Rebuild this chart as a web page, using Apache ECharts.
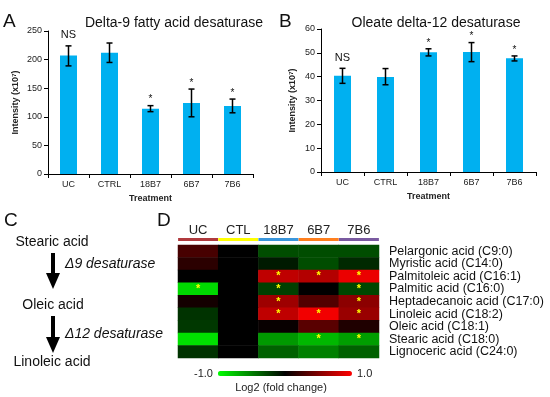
<!DOCTYPE html>
<html>
<head>
<meta charset="utf-8">
<script src="https://cdn.jsdelivr.net/npm/echarts@6/dist/echarts.min.js"></script>
<style>
html,body{margin:0;padding:0;background:#fff;}
#chart{width:550px;height:397px;}
</style>
</head>
<body>
<div id="chart"></div>
<script>
// ---- Data ----
const treatA = ['UC', 'CTRL', '18B7', '6B7', '7B6'];
const meanA = [207, 212, 114, 124, 119];
const lowA = [189, 195, 109, 100, 107];
const highA = [224, 229, 119.5, 148.5, 131];
const sigA = ['NS', '', '*', '*', '*'];

const treatB = ['UC', 'CTRL', '18B7', '6B7', '7B6'];
const meanB = [40.4, 39.9, 50.2, 50.3, 47.7];
const lowB = [37.2, 36.6, 48.7, 46.3, 46.6];
const highB = [43.5, 43.4, 51.7, 54.3, 48.7];
const sigB = ['NS', '', '*', '*', '*'];

const heatCols = ['UC', 'CTL', '18B7', '6B7', '7B6'];
const heatRows = ['Pelargonic acid (C9:0)', 'Myristic acid (C14:0)', 'Palmitoleic acid (C16:1)',
  'Palmitic acid (C16:0)', 'Heptadecanoic acid (C17:0)', 'Linoleic acid (C18:2)',
  'Oleic acid (C18:1)', 'Stearic acid (C18:0)', 'Lignoceric acid (C24:0)'];
// log2 fold change, rows x [UC, CTL, 18B7, 6B7, 7B6]
const foldChange = [
  [0.28, 0, -0.30, -0.30, -0.30],
  [0.17, 0, -0.10, -0.30, -0.16],
  [0.00, 0, 0.75, 0.70, 0.92],
  [-0.85, 0, -0.25, 0.00, -0.28],
  [0.08, 0, 0.62, 0.32, 0.55],
  [-0.20, 0, 0.75, 0.95, 0.60],
  [-0.22, 0, 0.03, 0.35, 0.12],
  [-0.88, 0, -0.60, -0.72, -0.62],
  [-0.20, 0, -0.38, -0.50, -0.38]
];
const heatSig = [
  [0, 0, 0, 0, 0],
  [0, 0, 0, 0, 0],
  [0, 0, 1, 1, 1],
  [1, 0, 1, 0, 1],
  [0, 0, 1, 0, 1],
  [0, 0, 1, 1, 1],
  [0, 0, 0, 0, 0],
  [0, 0, 0, 1, 1],
  [0, 0, 0, 0, 0]
];
const colColors = ['#b03a3e', '#ffff00', '#3a96dc', '#ff7f1e', '#7a5aa0'];

// ---- Build ----
const FONT = '"Liberation Sans", Arial, sans-serif';
const chart = echarts.init(document.getElementById('chart'));

function errRender(sig) {
  return function (params, api) {
    const i = api.value(0);
    const lo = api.coord([i, api.value(1)]);
    const hi = api.coord([i, api.value(2)]);
    const c = 3;
    const s = {stroke: '#000', lineWidth: 1.5};
    const txt = sig[i];
    return {
      type: 'group',
      children: [
        {type: 'line', shape: {x1: lo[0], y1: lo[1], x2: hi[0], y2: hi[1]}, style: s},
        {type: 'line', shape: {x1: lo[0] - c, y1: lo[1], x2: lo[0] + c, y2: lo[1]}, style: s},
        {type: 'line', shape: {x1: hi[0] - c, y1: hi[1], x2: hi[0] + c, y2: hi[1]}, style: s},
        {type: 'text', style: {text: txt, x: hi[0], y: hi[1] - (txt === 'NS' ? 5 : 1),
          align: 'center', verticalAlign: 'bottom',
          fontSize: txt === 'NS' ? 11 : 10, fontFamily: FONT, fill: '#111'}}
      ]
    };
  };
}

const catAxisCommon = {
  type: 'category',
  axisLine: {lineStyle: {color: '#000', width: 1}},
  axisTick: {show: true, alignWithLabel: false, length: 4, lineStyle: {color: '#000'}},
  axisLabel: {fontSize: 9, color: '#222', fontFamily: FONT, margin: 6},
  nameLocation: 'middle',
  nameTextStyle: {fontSize: 9, fontWeight: 'bold', color: '#222', fontFamily: FONT}
};
const valAxisCommon = {
  type: 'value',
  min: 0,
  axisLine: {show: true, lineStyle: {color: '#000', width: 1}},
  axisTick: {show: true, length: 4, lineStyle: {color: '#000'}},
  splitLine: {show: false},
  axisLabel: {fontSize: 9, color: '#222', fontFamily: FONT, margin: 6},
  nameLocation: 'middle',
  nameTextStyle: {fontSize: 9, fontWeight: 'bold', color: '#222', fontFamily: FONT}
};

const heatData = [];
foldChange.forEach((row, r) => row.forEach((v, c) => heatData.push([c, r, v])));

const option = {
  animation: false,
  backgroundColor: '#fff',
  textStyle: {fontFamily: FONT},
  title: [
    {text: 'Delta-9 fatty acid desaturase', left: 169, top: 11, textAlign: 'center',
      textStyle: {fontSize: 14, fontWeight: 'normal', color: '#111', fontFamily: FONT}},
    {text: 'Oleate delta-12 desaturase', left: 431, top: 11, textAlign: 'center',
      textStyle: {fontSize: 14, fontWeight: 'normal', color: '#111', fontFamily: FONT}}
  ],
  grid: [
    {left: 48, top: 31, width: 205, height: 143},
    {left: 321, top: 29, width: 215, height: 143},
    {left: 178, top: 245, width: 201, height: 113}
  ],
  xAxis: [
    Object.assign({}, catAxisCommon, {gridIndex: 0, data: treatA, name: 'Treatment', nameGap: 20}),
    Object.assign({}, catAxisCommon, {gridIndex: 1, data: treatB, name: 'Treatment', nameGap: 20}),
    {type: 'category', gridIndex: 2, data: heatCols, position: 'top',
      axisLine: {show: false}, axisTick: {show: false}, splitLine: {show: false},
      axisLabel: {
        margin: 4, interval: 0,
        formatter: function (v, i) { return '{t|' + v + '}\n{b' + i + '|}'; },
        rich: Object.assign({t: {fontSize: 13, color: '#222', fontFamily: FONT, lineHeight: 15, height: 15}},
          Object.fromEntries(colColors.map((c, i) => ['b' + i, {width: 40, height: 3, lineHeight: 3, backgroundColor: c}])))
      }}
  ],
  yAxis: [
    Object.assign({}, valAxisCommon, {gridIndex: 0, max: 250, interval: 50, name: 'Intensity (x10\u2077)', nameGap: 28}),
    Object.assign({}, valAxisCommon, {gridIndex: 1, max: 60, interval: 10, name: 'Intensity (x10\u2077)', nameGap: 24}),
    {type: 'category', gridIndex: 2, data: heatRows, inverse: true, position: 'right',
      axisLine: {show: false}, axisTick: {show: false}, splitLine: {show: false},
      axisLabel: {fontSize: 12.5, color: '#111', fontFamily: FONT, margin: 10, align: 'left', interval: 0}}
  ],
  visualMap: {
    type: 'continuous', seriesIndex: 4, min: -1, max: 1, orient: 'horizontal',
    left: 179, top: 353, itemWidth: 5, itemHeight: 134, calculable: false, hoverLink: false,
    text: ['1.0', '-1.0'], textGap: 5,
    textStyle: {fontSize: 11, color: '#222', fontFamily: FONT},
    inRange: {color: ['#00ff00', '#000000', '#ff0000']}
  },
  series: [
    {type: 'bar', xAxisIndex: 0, yAxisIndex: 0, data: meanA, barWidth: 17,
      itemStyle: {color: '#00b0f0'}, silent: true},
    {type: 'custom', xAxisIndex: 0, yAxisIndex: 0, renderItem: errRender(sigA),
      data: treatA.map((t, i) => [i, lowA[i], highA[i]]), encode: {x: 0, y: [1, 2]}, silent: true, z: 5},
    {type: 'bar', xAxisIndex: 1, yAxisIndex: 1, data: meanB, barWidth: 17,
      itemStyle: {color: '#00b0f0'}, silent: true},
    {type: 'custom', xAxisIndex: 1, yAxisIndex: 1, renderItem: errRender(sigB),
      data: treatB.map((t, i) => [i, lowB[i], highB[i]]), encode: {x: 0, y: [1, 2]}, silent: true, z: 5},
    {type: 'heatmap', xAxisIndex: 2, yAxisIndex: 2, data: heatData, silent: true,
      itemStyle: {borderWidth: 0},
      label: {show: true, color: '#ffff00', fontSize: 11, fontWeight: 'bold', fontFamily: FONT,
        formatter: function (p) { return heatSig[p.value[1]][p.value[0]] ? '*' : ''; }}}
  ],
  graphic: [
    {type: 'text', left: 3, top: 12, style: {text: 'A', fontSize: 19, fill: '#111', fontFamily: FONT}},
    {type: 'text', left: 279, top: 12, style: {text: 'B', fontSize: 19, fill: '#111', fontFamily: FONT}},
    {type: 'text', left: 4, top: 211, style: {text: 'C', fontSize: 19, fill: '#111', fontFamily: FONT}},
    {type: 'text', left: 157, top: 211, style: {text: 'D', fontSize: 19, fill: '#111', fontFamily: FONT}},
    {type: 'text', x: 52, y: 242, style: {text: 'Stearic acid', fontSize: 14, fill: '#111', fontFamily: FONT, align: 'center', verticalAlign: 'middle'}},
    {type: 'text', x: 53, y: 305, style: {text: 'Oleic acid', fontSize: 14, fill: '#111', fontFamily: FONT, align: 'center', verticalAlign: 'middle'}},
    {type: 'text', x: 52, y: 362, style: {text: 'Linoleic acid', fontSize: 14, fill: '#111', fontFamily: FONT, align: 'center', verticalAlign: 'middle'}},
    {type: 'text', x: 65, y: 264, style: {text: '\u03949 desaturase', fontSize: 14, fontStyle: 'italic', fill: '#111', fontFamily: FONT, verticalAlign: 'middle'}},
    {type: 'text', x: 65, y: 334, style: {text: '\u039412 desaturase', fontSize: 14, fontStyle: 'italic', fill: '#111', fontFamily: FONT, verticalAlign: 'middle'}},
    {type: 'rect', shape: {x: 51, y: 253, width: 4, height: 21}, style: {fill: '#000'}},
    {type: 'polygon', shape: {points: [[46, 273], [60, 273], [53, 289]]}, style: {fill: '#000'}},
    {type: 'rect', shape: {x: 51, y: 316, width: 4, height: 22}, style: {fill: '#000'}},
    {type: 'polygon', shape: {points: [[46, 337], [60, 337], [53, 353]]}, style: {fill: '#000'}},
    {type: 'text', x: 281, y: 388, style: {text: 'Log2 (fold change)', fontSize: 11, fill: '#222', fontFamily: FONT, align: 'center', verticalAlign: 'middle'}}
  ]
};
chart.setOption(option);
</script>
</body>
</html>
